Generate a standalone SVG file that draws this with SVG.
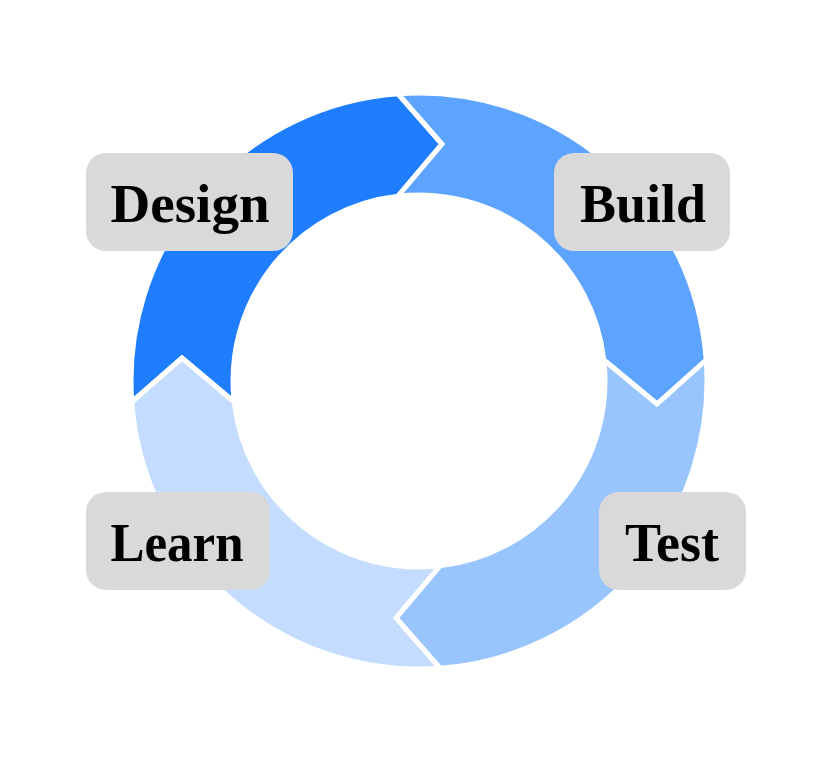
<svg xmlns="http://www.w3.org/2000/svg" width="825" height="779" viewBox="0 0 825 779">
<style>
.seg{stroke:#ffffff;stroke-width:5;stroke-linejoin:miter}
.box{fill:#d9d9d9}
.lbl{font-family:"Liberation Serif","DejaVu Serif",serif;font-weight:bold;font-size:54px;fill:#000000;text-anchor:middle}
</style>
<rect width="825" height="779" fill="#ffffff"/>
<g id="connectors">
<path id="arc-design" class="seg" fill="#1f7dff" d="M131.77,402 A288,288 0 0 1 398,93.77 L442,144 L398,196.19 A186,186 0 0 0 234.19,402 L182,358 Z"/>
<path id="arc-build" class="seg" fill="#5ca4ff" d="M398,93.77 A288,288 0 0 1 706.23,360 L657,404 L603.81,360 A186,186 0 0 0 398,196.19 L442,144 Z"/>
<path id="arc-test" class="seg" fill="#99c5ff" d="M706.23,360 A288,288 0 0 1 440,668.23 L396,618 L440,565.81 A186,186 0 0 0 603.81,360 L657,404 Z"/>
<path id="arc-learn" class="seg" fill="#c3dcff" d="M440,668.23 A288,288 0 0 1 131.77,402 L182,358 L234.19,402 A186,186 0 0 0 440,565.81 L396,618 Z"/>
</g>
<g id="design">
<rect class="box" x="86" y="153" width="207" height="98" rx="20"/>
<text class="lbl" x="190" y="222" textLength="159" lengthAdjust="spacingAndGlyphs">Design</text>
</g>
<g id="build">
<rect class="box" x="554" y="153" width="176" height="98" rx="20"/>
<text class="lbl" x="643" y="222" textLength="126" lengthAdjust="spacingAndGlyphs">Build</text>
</g>
<g id="learn">
<rect class="box" x="86" y="492" width="184" height="98" rx="20"/>
<text class="lbl" x="177" y="561" textLength="133" lengthAdjust="spacingAndGlyphs">Learn</text>
</g>
<g id="test">
<rect class="box" x="599" y="492" width="147" height="98" rx="20"/>
<text class="lbl" x="672" y="561" textLength="94" lengthAdjust="spacingAndGlyphs">Test</text>
</g>
</svg>
